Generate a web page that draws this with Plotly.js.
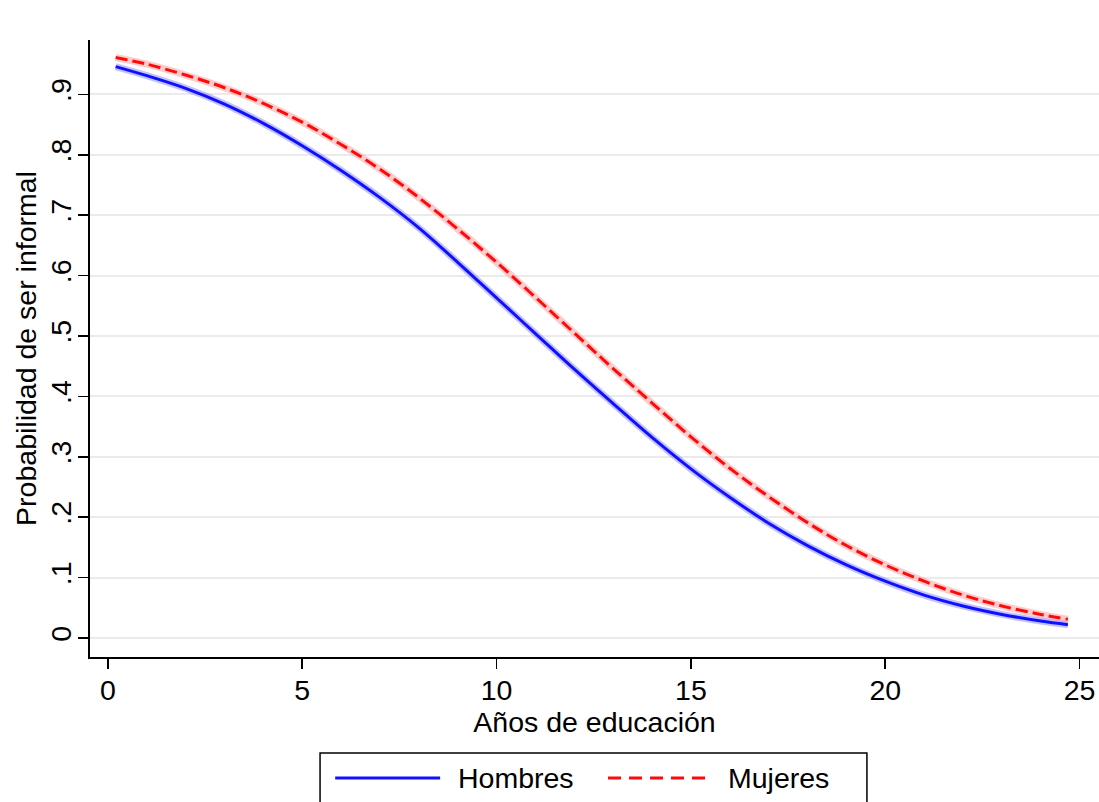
<!DOCTYPE html>
<html>
<head>
<meta charset="utf-8">
<script src="https://cdn.plot.ly/plotly-3.0.1.min.js"></script>
<style>
  html, body { margin: 0; padding: 0; background: #ffffff; }
  #graph { width: 1099px; height: 802px; }
</style>
</head>
<body>
<div id="graph"></div>
<script>
// años de educación
var educ = [0.2, 1, 2, 3, 4, 5, 6, 7, 8, 9, 10, 11, 12, 13, 14, 15, 16, 17, 18, 19, 20, 21, 22, 23, 24, 24.7];

// probabilidad de ser informal
var hombres = [0.946, 0.931, 0.910, 0.884, 0.852, 0.815, 0.774, 0.729, 0.679, 0.622, 0.563, 0.504, 0.445,
               0.388, 0.332, 0.280, 0.233, 0.190, 0.153, 0.121, 0.094, 0.071, 0.053, 0.039, 0.028, 0.022];
var mujeres = [0.961, 0.950, 0.932, 0.911, 0.885, 0.854, 0.817, 0.776, 0.729, 0.677, 0.622, 0.564, 0.505,
               0.446, 0.389, 0.333, 0.281, 0.234, 0.191, 0.153, 0.121, 0.094, 0.071, 0.053, 0.039, 0.031];

var seriesNames = ["Hombres", "Mujeres"];
var xTicks = [0, 5, 10, 15, 20, 25];
var yTicks = [0, 0.1, 0.2, 0.3, 0.4, 0.5, 0.6, 0.7, 0.8, 0.9];
var yTickText = ["0", ".1", ".2", ".3", ".4", ".5", ".6", ".7", ".8", ".9"];

var fontFam = '"Liberation Sans", Arial, Helvetica, sans-serif';
var fs = 28.5;

function drawChart() {
    var data = [
        // light halo under each line (the thin confidence band)
        {x: educ, y: hombres, type: "scatter", mode: "lines", hoverinfo: "skip", showlegend: false,
         line: {color: "rgba(120,120,255,0.45)", width: 7, shape: "spline"}},
        {x: educ, y: mujeres, type: "scatter", mode: "lines", hoverinfo: "skip", showlegend: false,
         line: {color: "rgba(255,140,140,0.45)", width: 7, shape: "spline"}},
        {x: educ, y: hombres, name: seriesNames[0], type: "scatter", mode: "lines", showlegend: false,
         line: {color: "#1010ff", width: 3, shape: "spline"}},
        {x: educ, y: mujeres, name: seriesNames[1], type: "scatter", mode: "lines", showlegend: false,
         line: {color: "#ff0a0a", width: 3, dash: "12px,5px", shape: "spline"}}
    ];

    var layout = {
        width: 1099, height: 802,
        margin: {l: 90, r: 0, t: 40, b: 145},
        paper_bgcolor: "#ffffff",
        plot_bgcolor: "#ffffff",
        font: {family: fontFam, size: fs, color: "#000000"},
        showlegend: false,
        xaxis: {
            range: [-0.46, 25.5],
            tickvals: xTicks,
            ticktext: xTicks.map(String),
            ticks: "outside", ticklen: 10, tickwidth: 1.5, tickcolor: "#000",
            ticklabelstandoff: -3,
            showline: true, linecolor: "#000", linewidth: 2,
            showgrid: false, zeroline: false,
            tickfont: {size: fs},
            title: {text: "Años de educación", font: {size: fs}, standoff: 0}
        },
        yaxis: {
            range: [-0.0315, 0.99],
            tickvals: yTicks,
            ticktext: yTickText,
            tickangle: -90,
            ticks: "outside", ticklen: 10, tickwidth: 1.5, tickcolor: "#000",
            ticklabelstandoff: -4,
            showline: true, linecolor: "#000", linewidth: 2,
            showgrid: true, gridcolor: "#ebebeb", gridwidth: 2,
            zeroline: false,
            tickfont: {size: fs},
            title: {text: "Probabilidad de ser informal", font: {size: fs}, standoff: 0}
        },
        shapes: [
            // legend box
            {type: "rect", xref: "paper", yref: "paper", x0: 0.228, x1: 0.770, y0: -0.27, y1: -0.1556,
             line: {color: "#000", width: 1.5}, fillcolor: "rgba(0,0,0,0)"},
            {type: "line", xref: "paper", yref: "paper", x0: 0.243, x1: 0.347, y0: -0.196, y1: -0.196,
             line: {color: "#1010ff", width: 3}},
            {type: "line", xref: "paper", yref: "paper", x0: 0.5134, x1: 0.6164, y0: -0.196, y1: -0.196,
             line: {color: "#ff0a0a", width: 3, dash: "13px,8px"}}
        ],
        annotations: [
            {xref: "paper", yref: "paper", x: 0.3627, y: -0.196, xanchor: "left", yanchor: "middle",
             text: seriesNames[0], showarrow: false, font: {size: fs}},
            {xref: "paper", yref: "paper", x: 0.6303, y: -0.196, xanchor: "left", yanchor: "middle",
             text: seriesNames[1], showarrow: false, font: {size: fs}}
        ]
    };

    Plotly.newPlot('graph', data, layout, {displayModeBar: false, staticPlot: true});
}

drawChart();
</script>
</body>
</html>
